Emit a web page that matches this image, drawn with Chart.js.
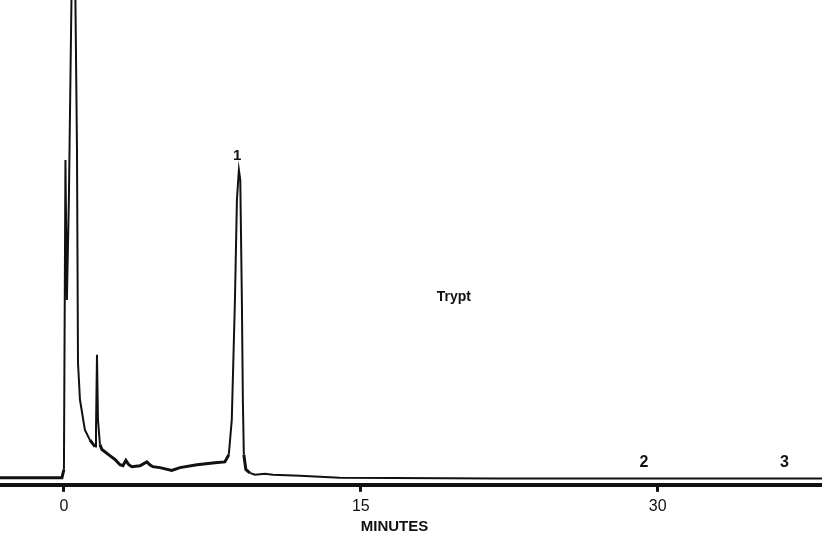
<!DOCTYPE html>
<html>
<head>
<meta charset="utf-8">
<script src="https://cdn.jsdelivr.net/npm/chart.js@4/dist/chart.umd.min.js"></script>
<style>
  body { margin: 0; background: #fff; }
  #wrap { width: 822px; height: 536px; }
</style>
</head>
<body>
<div id="wrap"><canvas id="chrom" width="822" height="536"></canvas></div>
<script>
// retention time (minutes) and detector response (arbitrary units)
var times = [-3.3, -0.10, 0, 0.076, 0.15, 0.25, 0.38, 0.45, 0.58, 0.66, 0.71, 0.81, 1.06, 1.31, 1.57,
  1.62, 1.67, 1.72, 1.82, 1.92, 2.32, 2.58, 2.83, 2.98, 3.13, 3.28, 3.43, 3.84, 4.19, 4.34, 4.49,
  4.85, 5.45, 5.86, 6.72, 7.63, 8.13, 8.33, 8.48, 8.64, 8.74, 8.84, 8.91, 8.99, 9.04, 9.09, 9.19,
  9.39, 9.65, 10.15, 10.56, 11.92, 13.94, 22.0, 38.5];
var signal = [0, 0, 1.7, 66.5, 37.2, 58.2, 100, 142, 100, 68.6, 24.1, 16.3, 10.0, 7.9, 6.5,
  10.0, 25.7, 12.1, 6.9, 5.9, 4.6, 3.8, 2.7, 2.5, 3.6, 2.7, 2.3, 2.5, 3.3, 2.7, 2.3,
  2.1, 1.5, 2.1, 2.7, 3.1, 3.3, 4.8, 12.1, 37.2, 58.2, 64.4, 62.3, 37.2, 16.3, 4.8, 1.7,
  1.0, 0.6, 0.8, 0.6, 0.4, 0, -0.2, -0.2];

var tickValues = [0, 15, 30];
var peakNames = ['1', '2', '3'];
var peakTimes = [8.75, 29.3, 36.4];
var sampleName = 'Trypt';
var axisTitle = 'MINUTES';

var points = [];
for (var i = 0; i < times.length; i++) {
  points.push({x: times[i], y: signal[i]});
}

// text labels placed in data coordinates
var labelPlugin = {
  id: 'labels',
  afterDraw: function(chart) {
    var ctx = chart.ctx;
    var xs = chart.scales.x, ys = chart.scales.y;
    ctx.save();
    ctx.fillStyle = '#111';
    ctx.textAlign = 'center';
    ctx.textBaseline = 'middle';
    ctx.font = 'bold 15px "Liberation Sans", Arial, sans-serif';
    ctx.fillText(peakNames[0], xs.getPixelForValue(peakTimes[0]), ys.getPixelForValue(67.3));
    ctx.font = 'bold 16px "Liberation Sans", Arial, sans-serif';
    ctx.fillText(peakNames[1], xs.getPixelForValue(peakTimes[1]), ys.getPixelForValue(3.1));
    ctx.fillText(peakNames[2], xs.getPixelForValue(peakTimes[2]), ys.getPixelForValue(3.1));
    ctx.font = 'bold 14px "Liberation Sans", Arial, sans-serif';
    ctx.fillText(sampleName, xs.getPixelForValue(19.7), ys.getPixelForValue(37.8));
    ctx.font = 'bold 15px "Liberation Sans", Arial, sans-serif';
    ctx.fillText(axisTitle, xs.getPixelForValue(16.7), 527);
    ctx.restore();
  }
};

// the pen trace is heavier along the low stretch before peak 1
function segWidth(c) {
  return (c.p0.parsed.y < 8 && c.p1.parsed.y < 8 && c.p1.parsed.x < 9.5) ? 3 : 2;
}

var chart = new Chart(document.getElementById('chrom'), {
  type: 'line',
  data: {
    datasets: [{
      data: points,
      borderColor: '#111',
      borderWidth: 2,
      segment: { borderWidth: segWidth },
      pointRadius: 0,
      tension: 0,
      fill: false
    }]
  },
  options: {
    responsive: false,
    animation: false,
    layout: { padding: { left: 0, right: 0, top: 0, bottom: 15 } },
    plugins: { legend: { display: false }, tooltip: { enabled: false } },
    scales: {
      x: {
        type: 'linear',
        min: -3.23,
        max: 38.3,
        afterBuildTicks: function(axis) {
          axis.ticks = tickValues.map(function(v) { return {value: v}; });
        },
        grid: { drawOnChartArea: false, drawTicks: true, tickLength: 7, tickWidth: 3, tickColor: '#111' },
        border: { display: true, color: '#111', width: 4 },
        ticks: {
          color: '#111',
          padding: 5,
          maxRotation: 0,
          font: { family: '"Liberation Sans", Arial, sans-serif', size: 16 }
        }
      },
      y: {
        display: false,
        min: -1.5,
        max: 100
      }
    }
  },
  plugins: [labelPlugin]
});
</script>
</body>
</html>
